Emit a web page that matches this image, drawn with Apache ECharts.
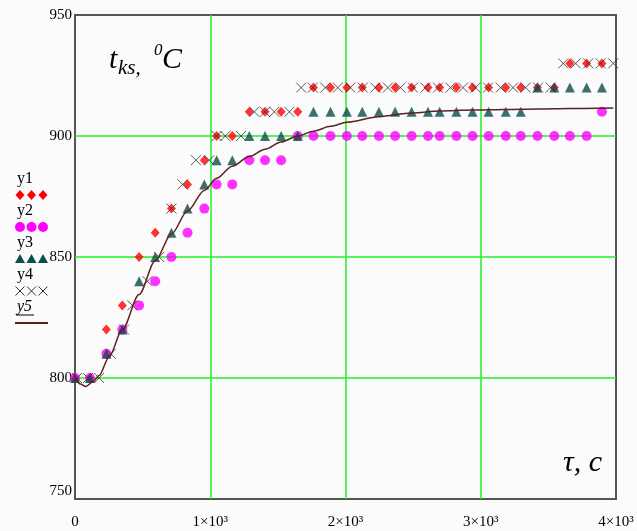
<!DOCTYPE html>
<html><head><meta charset="utf-8">
<script src="https://cdn.jsdelivr.net/npm/echarts@6/dist/echarts.min.js"></script>
<style>html,body{margin:0;padding:0;background:#fbfbfb}#c{width:637px;height:531px}</style>
</head><body><div id="c"></div>
<script>
// ---- data ----
const xTickLabels = ['0', '1×10³', '2×10³', '3×10³', '4×10³'];
const yTickLabels = ['750', '800', '850', '900', '950'];

// shared time samples for y1, y2, y3 (s)
const tMain = [0, 111, 232, 350, 474, 593, 713, 832, 956, 1047, 1163, 1289, 1405, 1524, 1647, 1763, 1889, 2010, 2124, 2247, 2367, 2489, 2610, 2696, 2820, 2939, 3058, 3185, 3296, 3419, 3544, 3659, 3783, 3896];
const y1 = [800, 800, 820, 830, 850, 860, 870, 880, 890, 900, 900, 910, 910, 910, 910, 920, 920, 920, 920, 920, 920, 920, 920, 920, 920, 920, 920, 920, 920, 920, 920, 930, 930, 930];
const y2 = [800, 800, 810, 820, 830, 840, 850, 860, 870, 880, 880, 890, 890, 890, 900, 900, 900, 900, 900, 900, 900, 900, 900, 900, 900, 900, 900, 900, 900, 900, 900, 900, 900, 910];
const y3 = [800, 800, 810, 820, 840, 850, 860, 870, 880, 890, 890, 900, 900, 900, 900, 910, 910, 910, 910, 910, 910, 910, 910, 910, 910, 910, 910, 910, 910, 920, 920, 920, 920, 920];

// y4 has its own time samples
const tY4 = [15, 96, 178, 264, 363, 424, 536, 622, 713, 795, 894, 993, 1047, 1111, 1227, 1326, 1405, 1474, 1585, 1672, 1758, 1850, 1943, 2036, 2128, 2221, 2313, 2406, 2499, 2591, 2684, 2776, 2869, 2961, 3054, 3147, 3239, 3332, 3424, 3517, 3610, 3702, 3795, 3887, 3980];
const y4 = [800, 800, 800, 810, 820, 830, 840, 850, 870, 880, 890, 890, 900, 900, 900, 910, 910, 910, 910, 920, 920, 920, 920, 920, 920, 920, 920, 920, 920, 920, 920, 920, 920, 920, 920, 920, 920, 920, 920, 920, 930, 930, 930, 930, 930];

// y5 fitted curve
const tY5 = [0, 40, 80, 130, 178, 250, 350, 474, 593, 713, 832, 956, 1047, 1163, 1289, 1405, 1524, 1647, 1765, 1889, 2010, 2247, 2489, 2696, 2939, 3185, 3419, 3659, 3980];
const y5 = [800, 797.5, 796.5, 798.3, 801, 808.5, 820, 834.5, 848.5, 859.5, 869, 877.5, 882.5, 887.5, 891.5, 894.5, 897.5, 900, 902, 904, 905.7, 908, 909.5, 910.3, 910.7, 911, 911.2, 911.4, 911.6];

const legendNames = ['y1', 'y2', 'y3', 'y4', 'y5'];

// ---- chart ----
const pair = (ts, vs) => ts.map((t, i) => [t, vs[i]]);
const SERIF = 'Liberation Serif, Times New Roman, serif';
const RED = '#ff0000', MAG = '#ff00ff', TEAL = '#0b4e4c', XCOL = '#333333', LINE = '#5e2020', GREEN = '#22f022';
const CROSS = 'path://M0 0L10 10M10 0L0 10';

const chart = echarts.init(document.getElementById('c'));

// legend graphics (text above three symbols)
const graphic = [];
const lx = 17, ly0 = 180, step = 32;
legendNames.forEach((n, i) => {
  const cy = ly0 + i * step;
  graphic.push({type: 'text', left: lx, top: cy - 9, style: {text: n, font: (i === 4 ? 'italic ' : '') + '16px ' + SERIF, fill: '#000'}});
  const sy = cy + 15;
  for (let k = 0; k < 3; k++) {
    const cx = 20 + k * 11.5;
    if (i === 0) graphic.push({type: 'polygon', shape: {points: [[cx, sy - 5], [cx + 4.5, sy], [cx, sy + 5], [cx - 4.5, sy]]}, style: {fill: RED}});
    if (i === 1) graphic.push({type: 'circle', shape: {cx: cx, cy: sy, r: 5}, style: {fill: MAG}});
    if (i === 2) graphic.push({type: 'polygon', shape: {points: [[cx, sy - 5], [cx + 5, sy + 4], [cx - 5, sy + 4]]}, style: {fill: TEAL}});
    if (i === 3) graphic.push({type: 'polyline', shape: {points: [[cx - 4.5, sy - 4.5], [cx + 4.5, sy + 4.5]]}, style: {stroke: XCOL, lineWidth: 1}},
                              {type: 'polyline', shape: {points: [[cx + 4.5, sy - 4.5], [cx - 4.5, sy + 4.5]]}, style: {stroke: XCOL, lineWidth: 1}});
  }
  if (i === 4) {
    graphic.push({type: 'line', shape: {x1: 16, y1: cy + 7, x2: 34, y2: cy + 7}, style: {stroke: '#000', lineWidth: 1}});
    graphic.push({type: 'line', shape: {x1: 15, y1: cy + 15, x2: 48, y2: cy + 15}, style: {stroke: LINE, lineWidth: 2}});
  }
});
// axis titles
graphic.push(
  {type: 'text', left: 109, top: 45, style: {text: 't', font: 'italic 30px ' + SERIF, fill: '#000'}},
  {type: 'text', left: 118, top: 58, style: {text: 'ks,', font: 'italic 21px ' + SERIF, fill: '#000'}},
  {type: 'text', left: 154, top: 42, style: {text: '0', font: 'italic 17px ' + SERIF, fill: '#000'}},
  {type: 'text', left: 162, top: 45, style: {text: 'C', font: 'italic 30px ' + SERIF, fill: '#000'}},
  {type: 'text', left: 563, top: 448, style: {text: 'τ, c', font: 'italic 30px ' + SERIF, fill: '#000'}}
);

const option = {
  animation: false,
  backgroundColor: '#fbfbfb',
  grid: {left: 75, top: 15, width: 541, height: 484, show: true, borderColor: '#555', borderWidth: 2, backgroundColor: 'transparent'},
  xAxis: {
    type: 'value', min: 0, max: 4000, interval: 1000,
    axisLine: {show: false}, axisTick: {show: false},
    axisLabel: {margin: 16, color: '#000', fontFamily: SERIF, fontSize: 15,
      formatter: v => xTickLabels[Math.round(v / 1000)]},
    splitLine: {show: true, showMinLine: false, showMaxLine: false, lineStyle: {color: GREEN, width: 1.5, opacity: 1}}
  },
  yAxis: {
    type: 'value', min: 750, max: 950, interval: 50,
    axisLine: {show: false}, axisTick: {show: false},
    axisLabel: {margin: 3, color: '#000', fontFamily: SERIF, fontSize: 15,
      formatter: v => {
        const s = yTickLabels[Math.round((v - 750) / 50)];
        return v === 750 ? '{lo|' + s + '}' : s;
      },
      rich: {lo: {fontFamily: SERIF, fontSize: 15, color: '#000', padding: [0, 0, 16, 0]}}},
    splitLine: {show: true, showMinLine: false, showMaxLine: false, lineStyle: {color: GREEN, width: 1.5, opacity: 1}}
  },
  graphic: graphic,
  series: [
    {name: 'y1', type: 'scatter', data: pair(tMain, y1), symbol: 'diamond', symbolSize: [9, 10], itemStyle: {color: RED}, z: 2},
    {name: 'y2', type: 'scatter', data: pair(tMain, y2), symbol: 'circle', symbolSize: 10, itemStyle: {color: MAG}, z: 3},
    {name: 'y3', type: 'scatter', data: pair(tMain, y3), symbol: 'triangle', symbolSize: [10, 10], itemStyle: {color: TEAL}, z: 4},
    {name: 'y4', type: 'scatter', data: pair(tY4, y4), symbol: CROSS, symbolSize: 10, itemStyle: {color: 'rgba(0,0,0,0)', borderColor: XCOL, borderWidth: 1}, z: 5},
    {name: 'y5', type: 'line', data: pair(tY5, y5), showSymbol: false, smooth: 0.3, smoothMonotone: 'x', lineStyle: {color: LINE, width: 1.5}, z: 6}
  ]
};
chart.setOption(option);
</script>
</body></html>
